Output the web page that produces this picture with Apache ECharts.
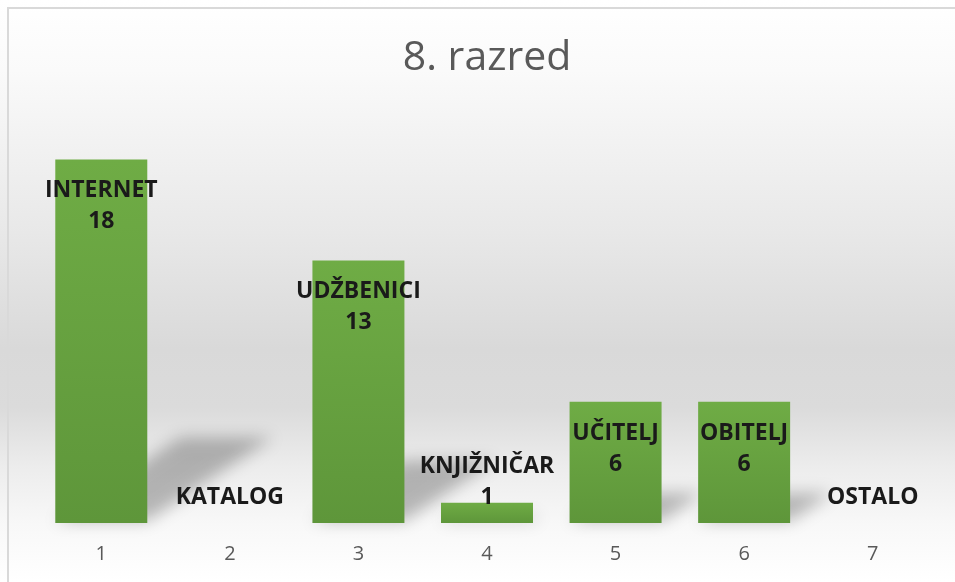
<!DOCTYPE html>
<html>
<head>
<meta charset="utf-8">
<title>8. razred</title>
<script src="https://cdn.jsdelivr.net/npm/echarts@6/dist/echarts.min.js"></script>
<style>
  html, body { margin: 0; padding: 0; background: #fff; }
  #chart { width: 955px; height: 582px; }
</style>
</head>
<body>
<div id="chart"></div>
<script>
// podaci
var categories = ['1', '2', '3', '4', '5', '6', '7'];
var names = ['INTERNET', 'KATALOG', 'UDŽBENICI', 'KNJIŽNIČAR', 'UČITELJ', 'OBITELJ', 'OSTALO'];
var values = [18, 0, 13, 1, 6, 6, 0];

var BAR_W = 92;

var myChart = echarts.init(document.getElementById('chart'));

// stupci + oznake
var barData = values.map(function (v, i) {
  var item = { value: v, name: names[i] };
  if (v < 3) {
    item.label = { position: 'insideBottom', distance: 10 };
  }
  return item;
});

// sjena (perspektiva) iza stupaca
function renderShadow(params, api) {
  var v = api.value(1);
  var base = api.coord([api.value(0), 0]);
  var top = api.coord([api.value(0), v]);
  var h = base[1] - top[1];
  if (h <= 0) return null;
  var sh = h * 0.23;
  var shift = sh * 1.5;
  var off = 3000;
  var x0 = base[0] - BAR_W / 2 - off;
  var x1 = base[0] + BAR_W / 2 - off;
  var by = base[1] - 2;
  return {
    type: 'polygon',
    shape: {
      points: [[x0, by], [x1, by], [x1 + shift, by - sh], [x0 + shift, by - sh]]
    },
    style: {
      fill: '#000',
      shadowColor: 'rgba(0,0,0,0.26)',
      shadowBlur: 16,
      shadowOffsetX: off,
      shadowOffsetY: 0
    }
  };
}

var option = {
  backgroundColor: new echarts.graphic.LinearGradient(0, 0, 0, 1, [
    { offset: 0, color: '#ffffff' },
    { offset: 0.12, color: '#fafafa' },
    { offset: 0.4, color: '#e8e8e8' },
    { offset: 0.6, color: '#d9d9d9' },
    { offset: 0.7, color: '#dbdbdb' },
    { offset: 0.8, color: '#ececec' },
    { offset: 0.9, color: '#f8f8f8' },
    { offset: 1, color: '#ffffff' }
  ]),
  animation: false,
  title: {
    text: '8. razred',
    left: 482,
    textAlign: 'center',
    top: 33,
    textStyle: {
      fontFamily: 'Open Sans',
      fontWeight: 'normal',
      fontSize: 41,
      color: '#595959'
    }
  },
  graphic: [
    {
      type: 'rect',
      z: 100,
      shape: { x: 8, y: 8, width: 1000, height: 1000 },
      style: { fill: 'none', stroke: '#d9d9d9', lineWidth: 2 }
    }
  ],
  grid: {
    left: 37,
    right: 18,
    top: 119,
    bottom: 59
  },
  xAxis: {
    type: 'category',
    data: categories,
    axisLine: { show: false },
    axisTick: { show: false },
    axisLabel: {
      margin: 21,
      fontFamily: 'Open Sans',
      fontSize: 20,
      color: '#595959'
    }
  },
  yAxis: {
    type: 'value',
    min: 0,
    max: 20,
    show: false,
    splitLine: { show: false }
  },
  series: [
    {
      type: 'custom',
      renderItem: renderShadow,
      data: values.map(function (v, i) { return [i, v]; }),
      clip: false,
      silent: true,
      z: 1
    },
    {
      type: 'bar',
      data: barData,
      barWidth: BAR_W,
      z: 2,
      itemStyle: {
        color: new echarts.graphic.LinearGradient(0, 0, 0, 1, [
          { offset: 0, color: '#6fac45' },
          { offset: 1, color: '#5e963a' }
        ])
      },
      label: {
        show: true,
        position: 'insideTop',
        distance: 16,
        formatter: function (p) {
          return p.value > 0 ? p.name + '\n' + p.value : p.name;
        },
        fontFamily: 'Open Sans',
        fontWeight: 'bold',
        fontSize: 23,
        lineHeight: 31,
        color: '#1a1a1a'
      }
    }
  ]
};

myChart.setOption(option);
</script>
</body>
</html>
